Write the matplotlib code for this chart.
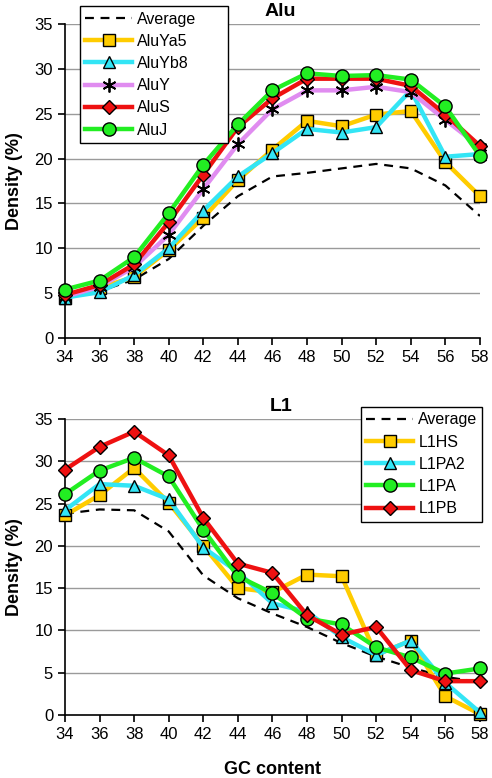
import numpy as np
import matplotlib.pyplot as plt

plt.rcParams['font.family'] = ['Liberation Sans', 'DejaVu Sans']

gc = [34, 36, 38, 40, 42, 44, 46, 48, 50, 52, 54, 56, 58]

# Alu panel
alu_avg = [4.5, 5.2, 6.5, 8.8, 12.5, 15.8, 18.0, 18.4, 18.9, 19.4, 18.9, 17.0, 13.6]
alu_ya5 = [4.5, 5.6, 6.8, 9.8, 13.4, 17.6, 21.0, 24.2, 23.6, 24.9, 25.3, 19.6, 15.8]
alu_yb8 = [4.5, 5.1, 7.0, 10.0, 14.2, 18.0, 20.6, 23.3, 22.9, 23.5, 27.6, 20.2, 20.5]
alu_y = [4.6, 5.7, 7.9, 11.5, 16.6, 21.6, 25.5, 27.6, 27.6, 28.0, 27.4, 24.3, 21.3]
alu_s = [4.8, 5.9, 8.2, 12.9, 18.2, 23.5, 26.7, 28.9, 28.9, 28.9, 28.1, 24.9, 21.4]
alu_j = [5.4, 6.4, 9.0, 13.9, 19.3, 23.8, 27.6, 29.5, 29.2, 29.3, 28.8, 25.8, 20.3]

# L1 panel
l1_avg = [23.8, 24.3, 24.2, 21.7, 16.5, 13.8, 12.0, 10.4, 8.5, 6.9, 5.6, 4.5, 3.9]
l1_hs = [23.6, 26.0, 29.2, 25.1, 20.0, 15.0, 14.5, 16.6, 16.4, 7.1, 8.8, 2.2, 0.1]
l1_pa2 = [24.2, 27.3, 27.1, 25.5, 19.8, 16.9, 13.2, 12.2, 9.2, 7.1, 8.8, 3.8, 0.3]
l1_pa = [26.1, 28.9, 30.4, 28.2, 21.9, 16.4, 14.4, 11.4, 10.7, 8.0, 6.8, 4.9, 5.5]
l1_pb = [29.0, 31.7, 33.5, 30.7, 23.3, 17.9, 16.8, 11.8, 9.5, 10.4, 5.3, 4.0, 4.0]

yellow = '#FFCC00'
cyan = '#33E5F5'
violet = '#E08CF0'
red = '#EE1111'
green = '#22EE22'


def style_axes(ax, title):
    ax.set_xlim(34, 58)
    ax.set_ylim(0, 35)
    ax.set_xticks(gc)
    ax.set_yticks(range(0, 36, 5))
    for v in range(5, 36, 5):
        ax.axhline(v, color='#9a9a9a', lw=1, zorder=0)
    for s in ['top', 'right']:
        ax.spines[s].set_visible(False)
    ax.spines['left'].set_linewidth(1.2)
    ax.spines['bottom'].set_linewidth(1.2)
    ax.tick_params(direction='out', length=5, width=1.2, labelsize=12)
    ax.set_ylabel('Density (%)', fontsize=13, fontweight='bold', labelpad=8)
    ax.set_title(title, fontsize=14, fontweight='bold', pad=6, x=0.52)


def series(ax, y, color, marker, label, face=None, ms=9):
    ax.plot(gc, y, color=color, lw=3.2, marker=marker, markersize=ms,
            markerfacecolor=face or color, markeredgecolor='black',
            markeredgewidth=1.0, label=label, clip_on=False, zorder=3)


def make_legend(ax, box):
    leg = ax.legend(loc='upper left', bbox_to_anchor=box, mode='expand', fontsize=11.5,
                    frameon=True, fancybox=False, edgecolor='black', framealpha=1,
                    handlelength=2.9, borderpad=0.35, labelspacing=0.45,
                    handletextpad=0.35, borderaxespad=0)
    leg.get_frame().set_linewidth(1)
    return leg


fig = plt.figure(figsize=(4.92, 7.78), dpi=100)
ax1 = fig.add_axes([0.132, 0.5656, 0.8435, 0.4036])
ax2 = fig.add_axes([0.132, 0.081, 0.8435, 0.3805])

# top: Alu
style_axes(ax1, 'Alu')
ax1.plot(gc, alu_avg, color='black', lw=1.6, ls=(0, (4, 3)), label='Average', zorder=2)
series(ax1, alu_ya5, yellow, 's', 'AluYa5')
series(ax1, alu_yb8, cyan, '^', 'AluYb8')
ax1.plot(gc, alu_y, color=violet, lw=3.2, marker=(6, 2, 0), markersize=10,
         markeredgecolor='black', markeredgewidth=1.3, label='AluY', clip_on=False, zorder=3)
series(ax1, alu_s, red, 'D', 'AluS', ms=7.5)
series(ax1, alu_j, green, 'o', 'AluJ', ms=9.5)
make_legend(ax1, (0.036, 0.621, 0.357, 0.436))

# bottom: L1
style_axes(ax2, 'L1')
ax2.plot(gc, l1_avg, color='black', lw=1.6, ls=(0, (4, 3)), label='Average', zorder=2)
series(ax2, l1_hs, yellow, 's', 'L1HS')
series(ax2, l1_pa2, cyan, '^', 'L1PA2')
series(ax2, l1_pa, green, 'o', 'L1PA', ms=9.5)
series(ax2, l1_pb, red, 'D', 'L1PB', ms=7.5)
make_legend(ax2, (0.713, 0.656, 0.292, 0.385))
ax2.set_xlabel('GC content', fontsize=13, fontweight='bold', labelpad=14)

fig.savefig('out.png', dpi=100)
